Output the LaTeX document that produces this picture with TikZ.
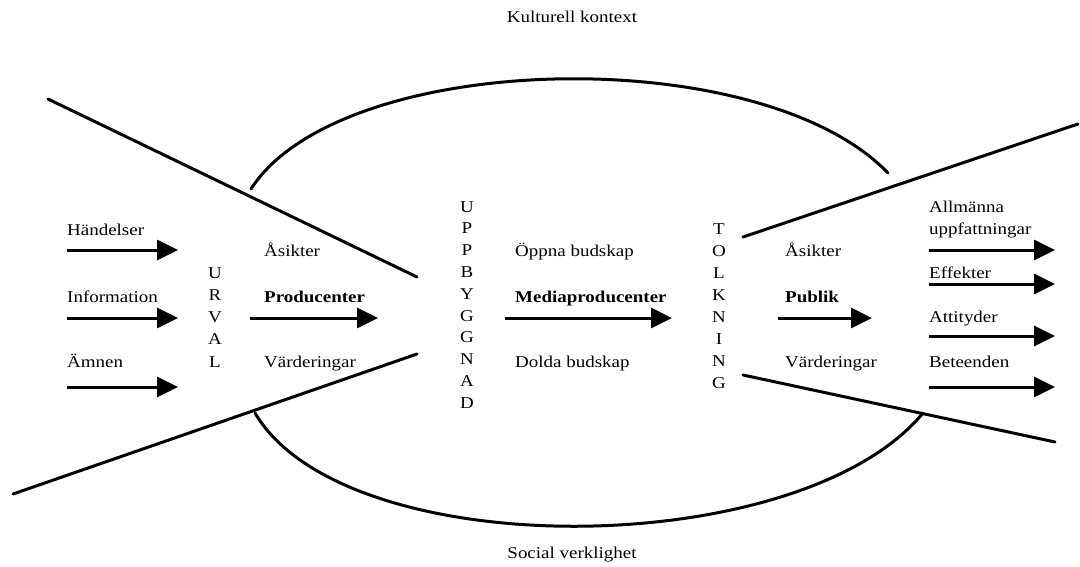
\documentclass[tikz,border=0pt]{standalone}
\usepackage{fontspec}
\setmainfont{Liberation Serif}[FakeStretch=1.15]
\usetikzlibrary{arrows.meta}
\begin{document}
\begin{tikzpicture}[x=1pt,y=-1pt,
  txt/.style={font=\fontsize{16.5}{20}\selectfont, inner sep=0pt, anchor=base west},
  ctxt/.style={txt, anchor=base},
  ltr/.style={txt, anchor=base},
  bold/.style={font=\fontsize{16.5}{20}\selectfont\bfseries},
  flow/.style={line width=3pt, -{Triangle[length=21pt,width=20pt]}},
  rim/.style={line width=3pt, line cap=round}]
\useasboundingbox (0,0) rectangle (1080,567);

% context labels
\node[ctxt] (kultur) at (572,23) {Kulturell kontext};
\node[ctxt] (social) at (572,558) {Social verklighet};

% funnel borders
\coordinate (tl-a) at (48,99);   \coordinate (tl-b) at (417,277);
\coordinate (bl-a) at (13,494);  \coordinate (bl-b) at (417,354);
\coordinate (tr-a) at (743,237); \coordinate (tr-b) at (1078,124);
\coordinate (br-a) at (743,375); \coordinate (br-b) at (1055,442);
\draw[rim] (tl-a) -- (tl-b);
\draw[rim] (bl-a) -- (bl-b);
\draw[rim] (tr-a) -- (tr-b);
\draw[rim] (br-a) -- (br-b);

% arcs for cultural context and social reality
\coordinate (top-a) at (251,189); \coordinate (top-b) at (888,173);
\coordinate (bot-a) at (255,413); \coordinate (bot-b) at (923,413);
\draw[rim] (top-a) .. controls (340,50) and (760,40) .. (top-b);
\draw[rim] (bot-a) .. controls (345,566) and (800,562) .. (bot-b);

% input column
\node[txt] (handelser) at (67,236) {Händelser};
\node[txt] (information) at (67,302) {Information};
\node[txt] (amnen) at (67,367) {Ämnen};
\coordinate (in1-a) at (67,250); \coordinate (in1-b) at (178,250);
\coordinate (in2-a) at (67,318); \coordinate (in2-b) at (178,318);
\coordinate (in3-a) at (67,387); \coordinate (in3-b) at (178,387);
\draw[flow] (in1-a) -- (in1-b);
\draw[flow] (in2-a) -- (in2-b);
\draw[flow] (in3-a) -- (in3-b);

% vertical words
\foreach \c [count=\i] in {U,R,V,A,L}
  \node[ltr] (urval-\i) at (215,{278+22.25*(\i-1)}) {\c};
\foreach \c [count=\i] in {U,P,P,B,Y,G,G,N,A,D}
  \node[ltr] (uppb-\i) at (467,{212+21.8*(\i-1)}) {\c};
\foreach \c [count=\i] in {T,O,L,K,N,I,N,G}
  \node[ltr] (tolk-\i) at (719,{235+21.9*(\i-1)}) {\c};

% producers
\node[txt] (asikter1) at (264,257) {Åsikter};
\node[txt, bold] (producenter) at (264,302) {Producenter};
\node[txt] (varde1) at (264,367) {Värderingar};
\coordinate (prod-a) at (250,318); \coordinate (prod-b) at (378,318);
\draw[flow] (prod-a) -- (prod-b);

% media producers
\node[txt] (oppna) at (515,257) {Öppna budskap};
\node[txt, bold] (media) at (515,302) {Mediaproducenter};
\node[txt] (dolda) at (515,367) {Dolda budskap};
\coordinate (med-a) at (505,318); \coordinate (med-b) at (672,318);
\draw[flow] (med-a) -- (med-b);

% audience
\node[txt] (asikter2) at (785,257) {Åsikter};
\node[txt, bold] (publik) at (785,302) {Publik};
\node[txt] (varde2) at (785,367) {Värderingar};
\coordinate (pub-a) at (778,318); \coordinate (pub-b) at (872,318);
\draw[flow] (pub-a) -- (pub-b);

% outcomes
\node[txt] (allm) at (929,213) {Allmänna};
\node[txt] (uppf) at (929,235) {uppfattningar};
\node[txt] (effekter) at (929,278) {Effekter};
\node[txt] (attityder) at (929,322) {Attityder};
\node[txt] (beteenden) at (929,367) {Beteenden};
\coordinate (out1-a) at (929,250); \coordinate (out1-b) at (1055,250);
\coordinate (out2-a) at (929,284); \coordinate (out2-b) at (1055,284);
\coordinate (out3-a) at (929,336); \coordinate (out3-b) at (1055,336);
\coordinate (out4-a) at (929,387); \coordinate (out4-b) at (1055,387);
\draw[flow] (out1-a) -- (out1-b);
\draw[flow] (out2-a) -- (out2-b);
\draw[flow] (out3-a) -- (out3-b);
\draw[flow] (out4-a) -- (out4-b);
\end{tikzpicture}
\end{document}
